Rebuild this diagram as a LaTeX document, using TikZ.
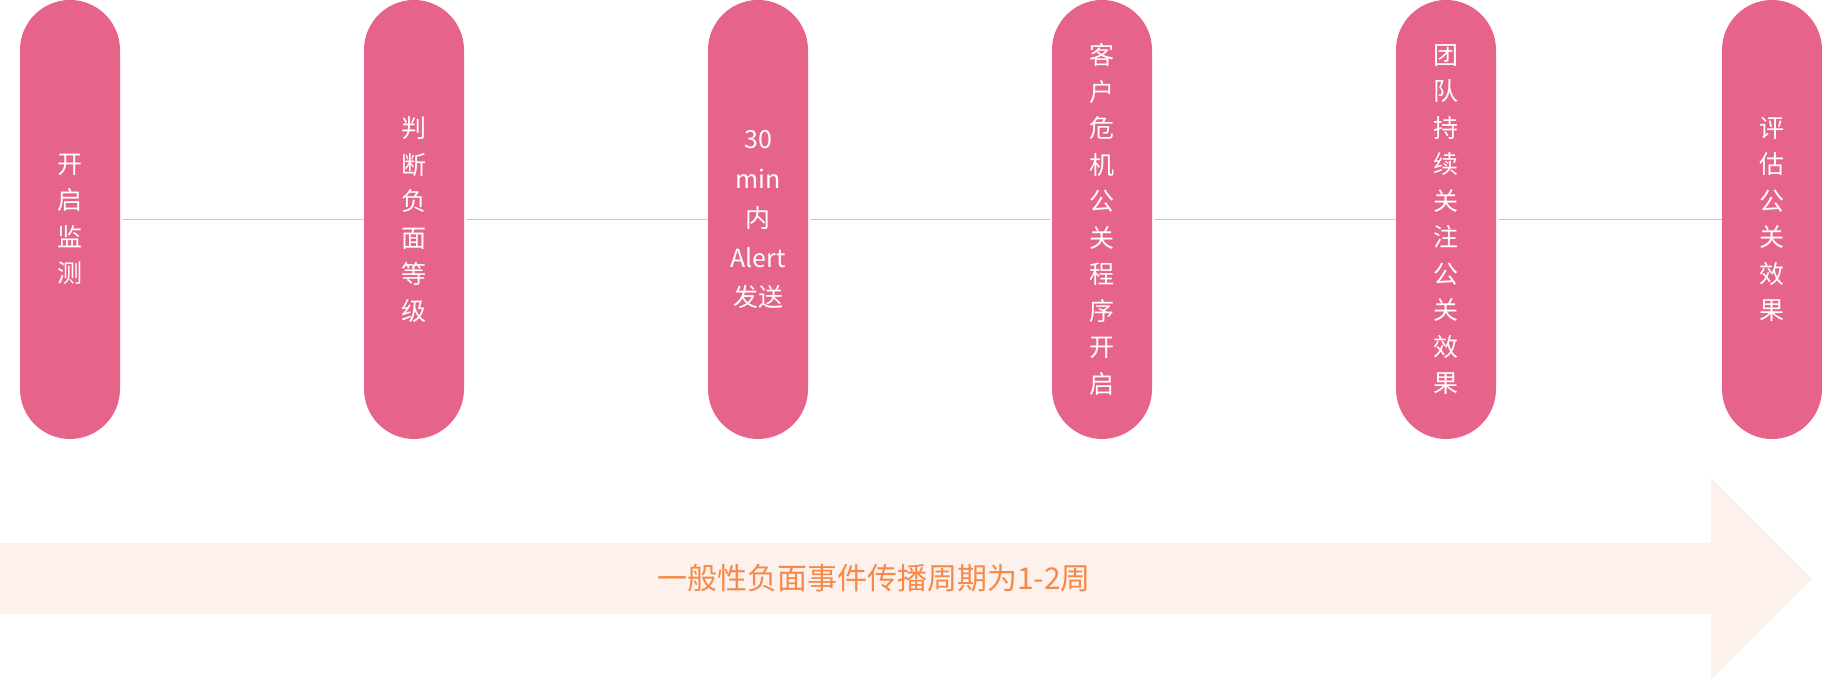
\documentclass[tikz,border=0pt]{standalone}
\usepackage{fontspec}
\setmainfont{Noto Sans CJK SC}
\definecolor{pillpink}{HTML}{E6648A}
\definecolor{linegray}{HTML}{C8C8C8}
\definecolor{arrowfill}{HTML}{FCF1EC}
\definecolor{labelorange}{HTML}{F5894A}
\begin{document}
\begin{tikzpicture}[x=1pt,y=1pt,
  pill/.style={fill=pillpink, draw=none, rounded corners=50pt, minimum width=100pt,
    minimum height=439pt, inner sep=0pt, text=white, align=center,
    font=\fontsize{25}{36.5}\selectfont},
  link/.style={draw=linegray, line width=1.5pt}]
\useasboundingbox (0,0) rectangle (1822,684);
% big arrow
\path[fill=arrowfill] (0,141) -- (1711,141) -- (1711,206) -- (1812,105) -- (1711,4) -- (1711,70) -- (0,70) -- cycle;
\node[text=labelorange, font=\fontsize{30}{36}\selectfont] (lbl) at (874,106) {一般性负面事件传播周期为1-2周};
% pills
\node[pill] (p1) at (70,464.5) {开\\启\\监\\测};
\node[pill] (p2) at (414,464.5) {判\\断\\负\\面\\等\\级};
\node[pill, font=\fontsize{25}{39.5}\selectfont] (p3) at (758,464.5) {30\\min\\内\\Alert\\发送};
\node[pill] (p4) at (1102,464.5) {客\\户\\危\\机\\公\\关\\程\\序\\开\\启};
\node[pill] (p5) at (1446,464.5) {团\\队\\持\\续\\关\\注\\公\\关\\效\\果};
\node[pill] (p6) at (1772,464.5) {评\\估\\公\\关\\效\\果};
% connectors
\draw[link] ([xshift=2pt]p1.east) -- (p2.west);
\draw[link] ([xshift=2pt]p2.east) -- (p3.west);
\draw[link] ([xshift=2pt]p3.east) -- ([xshift=-2pt]p4.west);
\draw[link] ([xshift=2pt]p4.east) -- (p5.west);
\draw[link] ([xshift=2pt]p5.east) -- (p6.west);
\end{tikzpicture}
\end{document}
